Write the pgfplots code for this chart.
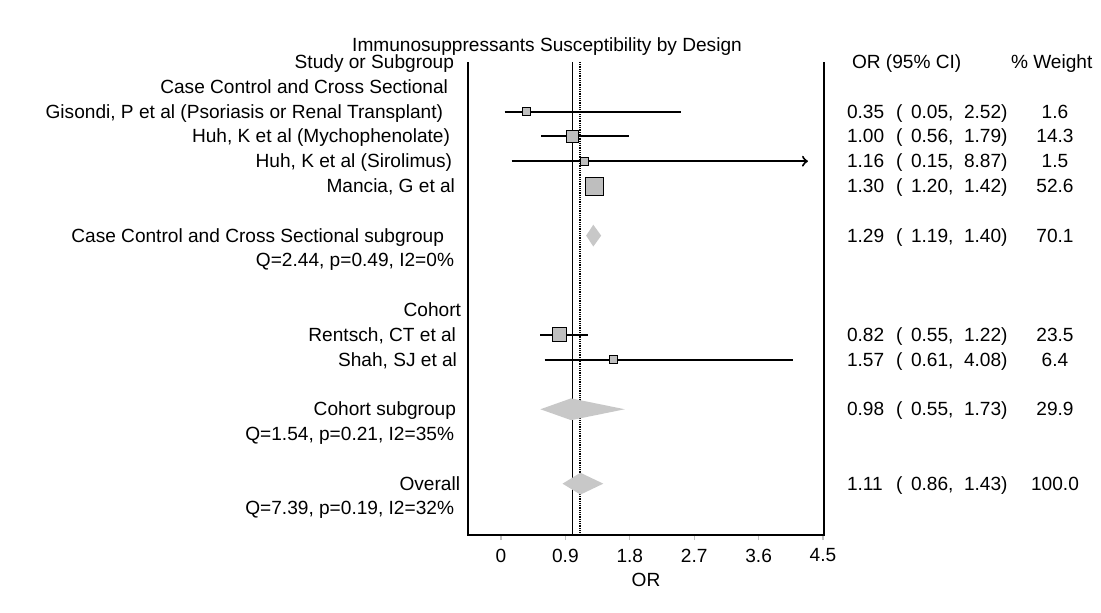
\documentclass[border=0pt]{standalone}
\usepackage{pgfplots}
\pgfplotsset{compat=1.18}
\usepackage{fontspec}
\setmainfont{Liberation Sans}
\definecolor{sqgray}{RGB}{190,190,190}
\definecolor{dmgray}{RGB}{200,200,200}
\newcommand{\orrow}[5]{%
  \node[anchor=base west] at (847,#1) {#2};
  \node[anchor=base west] at (896,#1) {(};
  \node[anchor=base west] at (911,#1) {#3,};
  \node[anchor=base west] at (964,#1) {#4)};
  \node[anchor=base] at (1055,#1) {#5};
}
\begin{document}
\fontsize{9.55}{11}\selectfont
\begin{tikzpicture}
\begin{axis}[
  at={(234pt,-267.5pt)}, anchor=south west,
  scale only axis, width=178pt, height=236.5pt,
  xmin=-0.461, xmax=4.514, ymin=-19.07, ymax=0,
  axis line style={draw=none},
  ytick=\empty,
  xtick={0,0.9,1.8,2.7,3.6,4.5},
  xticklabels={0,0.9,1.8,2.7,3.6,4.5},
  xtick pos=bottom, tick align=outside,
  major tick length=2.5pt,
  tick style={gray!50, line width=0.6pt},
  xticklabel style={font=\fontsize{9.55}{11}\selectfont, yshift=-1pt},
  /pgf/number format/assume math mode=true,
  xlabel={OR},
  xlabel style={at={(axis description cs:0.5,0)}, anchor=base, yshift=-25.85pt, font=\fontsize{9.55}{11}\selectfont},
  clip=false,
]
\draw[line width=1pt] (rel axis cs:0,1) -- (rel axis cs:0,0) -- (rel axis cs:1,0) -- (rel axis cs:1,1);
% reference and overall lines
\addplot[black, line width=0.5pt] coordinates {(1,0) (1,-19.07)};
\addplot[black, line width=1pt, dash pattern=on 0.5pt off 0.4pt] coordinates {(1.11,0) (1.11,-19.07)};
% diamonds
\addplot[fill=dmgray, draw=none] coordinates {(1.19,-7) (1.29,-6.56) (1.40,-7) (1.29,-7.44)} -- cycle;
\addplot[fill=dmgray, draw=none] coordinates {(0.55,-14) (0.98,-13.56) (1.73,-14) (0.98,-14.44)} -- cycle;
\addplot[fill=dmgray, draw=none] coordinates {(0.86,-17) (1.11,-16.56) (1.43,-17) (1.11,-17.44)} -- cycle;
% squares
\addplot[only marks, mark=square*, mark size=2pt, mark options={fill=sqgray,draw=black,line width=0.5pt}] coordinates {(0.35,-2)};
\addplot[only marks, mark=square*, mark size=3pt, mark options={fill=sqgray,draw=black,line width=0.5pt}] coordinates {(1.00,-3)};
\addplot[only marks, mark=square*, mark size=2pt, mark options={fill=sqgray,draw=black,line width=0.5pt}] coordinates {(1.16,-4)};
\addplot[only marks, mark=square*, mark size=4.5pt, mark options={fill=sqgray,draw=black,line width=0.5pt}] coordinates {(1.30,-5)};
\addplot[only marks, mark=square*, mark size=3.5pt, mark options={fill=sqgray,draw=black,line width=0.5pt}] coordinates {(0.82,-11)};
\addplot[only marks, mark=square*, mark size=1.85pt, mark options={fill=sqgray,draw=black,line width=0.5pt}] coordinates {(1.57,-12)};
% confidence intervals
\addplot[black, line width=1pt] coordinates {(0.05,-2) (2.52,-2)};
\addplot[black, line width=1pt] coordinates {(0.56,-3) (1.79,-3)};
\addplot[black, line width=1pt, ->] coordinates {(0.15,-4) (4.29,-4)};
\addplot[black, line width=1pt] coordinates {(1.20,-5) (1.42,-5)};
\addplot[black, line width=1pt] coordinates {(0.55,-11) (1.22,-11)};
\addplot[black, line width=1pt] coordinates {(0.61,-12) (4.08,-12)};
\end{axis}
\begin{scope}[x=0.5pt, y=-0.5pt, every node/.style={inner sep=0pt, outer sep=0pt}]
\node[anchor=base] at (547,51.7) {Immunosuppressants Susceptibility by Design};
\node[anchor=base east] at (454,68.5) {Study or Subgroup};
\node[anchor=base west] at (852,68.5) {OR (95\% CI)};
\node[anchor=base west] at (1011,68.5) {\% Weight};
\node[anchor=base east] at (448,93.3) {Case Control and Cross Sectional};
\node[anchor=base east] at (443,118.1) {Gisondi, P et al (Psoriasis or Renal Transplant)};
\node[anchor=base east] at (450,142.9) {Huh, K et al (Mychophenolate)};
\node[anchor=base east] at (452,167.7) {Huh, K et al (Sirolimus)};
\node[anchor=base east] at (455,192.5) {Mancia, G et al};
\node[anchor=base east] at (444,242.1) {Case Control and Cross Sectional subgroup};
\node[anchor=base east] at (454,266.9) {Q=2.44, p=0.49, I2=0\%};
\node[anchor=base east] at (461,316.5) {Cohort};
\node[anchor=base east] at (456,341.3) {Rentsch, CT et al};
\node[anchor=base east] at (457,366.1) {Shah, SJ et al};
\node[anchor=base east] at (456,415.7) {Cohort subgroup};
\node[anchor=base east] at (454,440.5) {Q=1.54, p=0.21, I2=35\%};
\node[anchor=base east] at (460,490.1) {Overall};
\node[anchor=base east] at (454,514.9) {Q=7.39, p=0.19, I2=32\%};
\orrow{118.1}{0.35}{0.05}{2.52}{1.6}
\orrow{142.9}{1.00}{0.56}{1.79}{14.3}
\orrow{167.7}{1.16}{0.15}{8.87}{1.5}
\orrow{192.5}{1.30}{1.20}{1.42}{52.6}
\orrow{242.1}{1.29}{1.19}{1.40}{70.1}
\orrow{341.3}{0.82}{0.55}{1.22}{23.5}
\orrow{366.1}{1.57}{0.61}{4.08}{6.4}
\orrow{415.7}{0.98}{0.55}{1.73}{29.9}
\orrow{490.1}{1.11}{0.86}{1.43}{100.0}
\pgfresetboundingbox
\path[use as bounding box] (0,0) rectangle (1101,612);
\end{scope}
\end{tikzpicture}
\end{document}
